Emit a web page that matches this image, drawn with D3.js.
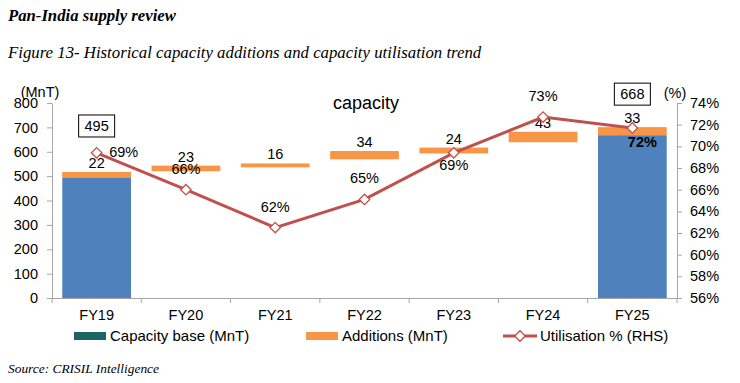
<!DOCTYPE html>
<html>
<head>
<meta charset="utf-8">
<script src="https://cdn.jsdelivr.net/npm/d3@7"></script>
<style>
  body { margin: 0; background: #fff; }
  svg { display: block; }
  text { font-family: "Liberation Sans", Arial, sans-serif; fill: #000; }
  .serif { font-family: "Liberation Serif", "Times New Roman", serif; }
</style>
</head>
<body>
<div id="chart"></div>
<script>
// ----- data
var years = ["FY19", "FY20", "FY21", "FY22", "FY23", "FY24", "FY25"];
var capacityBase = [495, 0, 0, 0, 0, 0, 668];          // shown blue only for FY19 and FY25
var additionStart = [495, 520, 536, 569, 593, 639, 668]; // floating start of the orange pieces
var additions = [22, 23, 16, 34, 24, 43, 33];
var utilisation = [69.4, 66.0, 62.5, 65.1, 69.4, 72.7, 71.7];
var utilLabels = ["69%", "66%", "62%", "65%", "69%", "73%", "72%"];
var leftTicks = [0, 100, 200, 300, 400, 500, 600, 700, 800];
var rightTicks = [56, 58, 60, 62, 64, 66, 68, 70, 72, 74];

var W = 740, H = 383;
var blue = "#4F81BD", orange = "#F79646", red = "#C0504D", grey = "#A6A6A6";

var svg = d3.select("#chart").append("svg")
  .attr("width", W).attr("height", H);

// titles
svg.append("text").attr("class", "serif")
  .attr("x", 8).attr("y", 21)
  .style("font-size", "16.7px").style("font-weight", "bold").style("font-style", "italic")
  .text("Pan-India supply review");
svg.append("text").attr("class", "serif")
  .attr("x", 8).attr("y", 58)
  .style("font-size", "16.8px").style("font-style", "italic")
  .text("Figure 13- Historical capacity additions and capacity utilisation trend");
svg.append("text").attr("class", "serif")
  .attr("x", 8).attr("y", 373)
  .style("font-size", "13.4px").style("font-style", "italic")
  .text("Source: CRISIL Intelligence");

// scales
var x = d3.scaleBand().domain(years).range([52, 677])
  .paddingInner(0.23).paddingOuter(0.115);
var y = d3.scaleLinear().domain([0, 800]).range([298, 103]);
var y2 = d3.scaleLinear().domain([56, 74]).range([298, 103]);

var fs = "14.5px";

// left axis
var gl = svg.append("g").attr("transform", "translate(52,0)")
  .call(d3.axisLeft(y).tickValues(leftTicks).tickSize(5).tickPadding(9).tickSizeOuter(0));
// right axis
var gr = svg.append("g").attr("transform", "translate(677,0)")
  .call(d3.axisRight(y2).tickValues(rightTicks).tickSize(5).tickPadding(8).tickSizeOuter(0)
    .tickFormat(function(d) { return d + "%"; }));
[gl, gr].forEach(function(g) {
  g.select(".domain").attr("stroke", grey);
  g.selectAll(".tick line").attr("stroke", grey);
  g.selectAll(".tick text").style("font-size", fs).attr("fill", "#000");
});

svg.append("text").attr("x", 40).attr("y", 97).attr("text-anchor", "middle")
  .style("font-size", fs).text("(MnT)");
svg.append("text").attr("x", 675).attr("y", 98).attr("text-anchor", "middle")
  .style("font-size", fs).text("(%)");

// bars: capacity base
svg.selectAll("rect.base")
  .data(years.map(function(d, i) { return { year: d, v: capacityBase[i] }; }).filter(function(d) { return d.v > 0; }))
  .enter().append("rect").attr("class", "base")
  .attr("x", function(d) { return x(d.year); })
  .attr("width", x.bandwidth())
  .attr("y", function(d) { return y(d.v); })
  .attr("height", function(d) { return y(0) - y(d.v); })
  .attr("fill", blue);

// bars: additions floating
var addData = years.map(function(d, i) {
  return { year: d, s: additionStart[i], v: additions[i] };
});
svg.selectAll("rect.add")
  .data(addData).enter().append("rect").attr("class", "add")
  .attr("x", function(d) { return x(d.year); })
  .attr("width", x.bandwidth())
  .attr("y", function(d) { return y(d.s + d.v); })
  .attr("height", function(d) { return y(d.s) - y(d.s + d.v); })
  .attr("fill", orange);

// bottom axis
svg.append("line").attr("x1", 52).attr("x2", 677).attr("y1", 298.5).attr("y2", 298.5)
  .attr("stroke", grey);
svg.selectAll("line.xt")
  .data(d3.range(years.length + 1)).enter().append("line").attr("class", "xt")
  .attr("x1", function(i) { return 52 + i * x.step(); })
  .attr("x2", function(i) { return 52 + i * x.step(); })
  .attr("y1", 298).attr("y2", 303).attr("stroke", grey);
svg.selectAll("text.xl")
  .data(years).enter().append("text").attr("class", "xl")
  .attr("x", function(d) { return x(d) + x.bandwidth() / 2; })
  .attr("y", 320).attr("text-anchor", "middle").style("font-size", fs)
  .text(function(d) { return d; });

// addition labels
svg.selectAll("text.al")
  .data(addData).enter().append("text").attr("class", "al")
  .attr("x", function(d) { return x(d.year) + x.bandwidth() / 2; })
  .attr("y", function(d) { return y(d.s + d.v) - 4; })
  .attr("text-anchor", "middle").style("font-size", fs)
  .text(function(d) { return d.v; });

// utilisation line
var cx = function(i) { return x(years[i]) + x.bandwidth() / 2; };
var line = d3.line()
  .x(function(d, i) { return cx(i); })
  .y(function(d) { return y2(d); });
svg.append("path").datum(utilisation)
  .attr("d", line).attr("fill", "none")
  .attr("stroke", red).attr("stroke-width", 3);

var diamond = d3.symbol().type(d3.symbolDiamond2).size(70);
svg.selectAll("path.mk")
  .data(utilisation).enter().append("path").attr("class", "mk")
  .attr("d", diamond)
  .attr("transform", function(d, i) { return "translate(" + cx(i) + "," + y2(d) + ")"; })
  .attr("fill", "#fff").attr("stroke", red).attr("stroke-width", 1.3);

// utilisation labels (offsets as placed in the reference)
var udx = [27, 0, 0, 0, 0, 0, 10];
var udy = [-1, -21, -21, -21, 12, -21, 14];
svg.selectAll("text.ul")
  .data(utilisation).enter().append("text").attr("class", "ul")
  .attr("x", function(d, i) { return cx(i) + udx[i]; })
  .attr("y", function(d, i) { return y2(d) + udy[i] + 5; })
  .attr("text-anchor", "middle").style("font-size", fs)
  .style("font-weight", function(d, i) { return i === 6 ? "bold" : "normal"; })
  .text(function(d, i) { return utilLabels[i]; });

// boxed capacity labels
function boxLabel(cxv, cyv, txt) {
  svg.append("rect").attr("x", cxv - 18).attr("y", cyv - 11)
    .attr("width", 36).attr("height", 22)
    .attr("fill", "#fff").attr("stroke", "#000").attr("stroke-width", 1);
  svg.append("text").attr("x", cxv).attr("y", cyv + 5)
    .attr("text-anchor", "middle").style("font-size", fs).text(txt);
}
boxLabel(cx(0), y(capacityBase[0] + additions[0]) - 46, capacityBase[0]);
boxLabel(cx(6), y(capacityBase[6] + additions[6]) - 33, capacityBase[6]);

svg.append("text").attr("x", 333).attr("y", 109)
  .style("font-size", "18px").text("capacity");

// legend
var lg = svg.append("g").attr("transform", "translate(0,336)");
lg.append("rect").attr("x", 74).attr("y", -4).attr("width", 32).attr("height", 8).attr("fill", "#1F6464");
lg.append("text").attr("x", 110).attr("y", 5).style("font-size", "15px").text("Capacity base (MnT)");
lg.append("rect").attr("x", 306).attr("y", -4).attr("width", 32).attr("height", 8).attr("fill", orange);
lg.append("text").attr("x", 342).attr("y", 5).style("font-size", "15px").text("Additions (MnT)");
lg.append("line").attr("x1", 503).attr("x2", 537).attr("y1", 0).attr("y2", 0)
  .attr("stroke", red).attr("stroke-width", 3);
lg.append("path").attr("d", diamond).attr("transform", "translate(520,0)")
  .attr("fill", "#fff").attr("stroke", red).attr("stroke-width", 1.3);
lg.append("text").attr("x", 540).attr("y", 5).style("font-size", "15px").text("Utilisation % (RHS)");
</script>
</body>
</html>
